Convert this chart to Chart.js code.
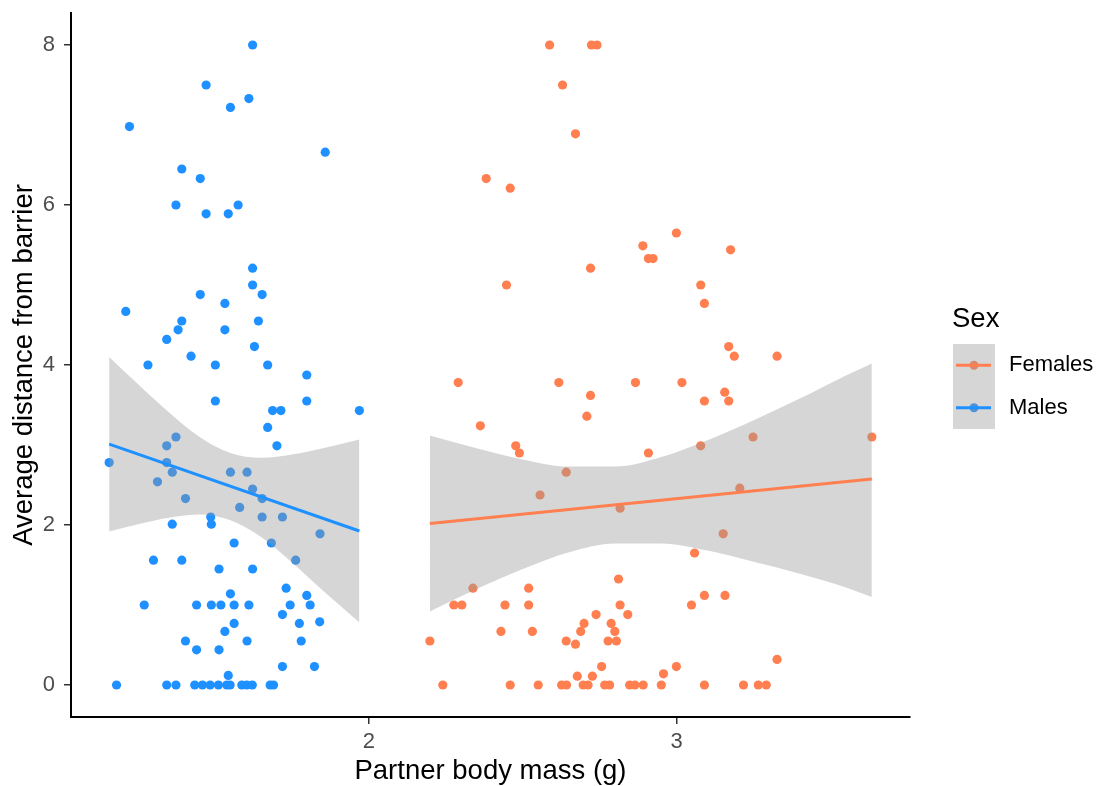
<!DOCTYPE html>
<html lang="en">
<head>
  <meta charset="UTF-8" />
  <title>Distance_Mass</title>
  <script src="https://cdn.jsdelivr.net/npm/chart.js"></script>
  <style>
    body {
      margin: 0;
      background: #fff;
      overflow: hidden;
    }

    #wrap {
      width: 1101px;
      height: 786px;
    }
  </style>
</head>
<body>

<div id="wrap"><canvas id="chart" width="1101" height="786"></canvas></div>

<script>
const FONT = "'Liberation Sans', Arial, sans-serif";
const femaleColor = "#FF7F50";
const maleColor = "#1E90FF";
const ribbonColor = "rgba(153,153,153,0.4)";

const xTicks = [2, 3];
const yTicks = [0, 2, 4, 6, 8];
const legendLabels = ["Females", "Males"];

// males: partner body mass (g) / average distance from barrier
const maleMass = [
  1.622, 1.471, 1.610, 1.550, 1.222, 1.858, 1.392, 1.452, 1.373, 1.575, 1.471, 1.543,
  1.622, 1.622, 1.452, 1.653, 1.532, 1.210, 1.392, 1.641, 1.380, 1.532, 1.343, 1.628,
  1.422, 1.282, 1.501, 1.671, 1.798, 1.501, 1.798, 1.687, 1.714, 1.969, 1.671, 1.373,
  1.343, 1.701, 1.156, 1.343, 1.361, 1.550, 1.604,
  1.313, 1.622, 1.404, 1.653, 1.580, 1.486, 1.653, 1.719, 1.361, 1.488, 1.841, 1.562,
  1.683, 1.300, 1.392, 1.762, 1.513, 1.622, 1.731, 1.550, 1.798, 1.270, 1.440, 1.488,
  1.519, 1.562, 1.610, 1.744, 1.809, 1.719, 1.840, 1.562, 1.774, 1.532, 1.404, 1.604,
  1.780, 1.440, 1.513, 1.719, 1.823, 1.543,
  1.180, 1.343, 1.373, 1.434, 1.459, 1.484, 1.511, 1.538, 1.549, 1.587, 1.603, 1.621,
  1.679, 1.690
];
const maleDist = [
  8.00, 7.50, 7.33, 7.22, 6.98, 6.66, 6.45, 6.33, 6.00, 6.00, 5.89, 5.89,
  5.21, 5.00, 4.88, 4.88, 4.77, 4.67, 4.55, 4.55, 4.44, 4.44, 4.32, 4.23,
  4.11, 4.00, 4.00, 4.00, 3.875, 3.55, 3.55, 3.43, 3.43, 3.43, 3.22, 3.10,
  2.99, 2.99, 2.78, 2.78, 2.66, 2.66, 2.66,
  2.54, 2.45, 2.33, 2.33, 2.22, 2.10, 2.10, 2.10, 2.01, 2.01, 1.89, 1.775,
  1.775, 1.56, 1.56, 1.56, 1.45, 1.45, 1.21, 1.14, 1.12, 1.00, 1.00, 1.00,
  1.00, 1.00, 1.00, 1.00, 1.00, 0.88, 0.79, 0.77, 0.77, 0.67, 0.55, 0.55,
  0.55, 0.44, 0.44, 0.23, 0.23, 0.12,
  0, 0, 0, 0, 0, 0, 0, 0, 0, 0, 0, 0,
  0, 0
];

// females
const femaleMass = [
  2.587, 2.723, 2.741, 2.629, 2.671, 2.381, 2.459, 2.999, 2.890, 2.908, 2.923, 3.175,
  2.720, 2.447, 3.078, 3.090, 3.169, 3.187, 3.326, 2.290, 2.617, 2.866, 3.017, 3.156,
  2.720, 3.090, 3.169, 2.708, 2.362, 3.248, 3.634, 2.477, 3.078, 2.489, 2.908, 2.641,
  2.556, 3.205, 2.816, 3.151, 3.058, 2.811, 2.338, 2.519, 3.090, 3.157, 2.276, 2.302,
  2.442, 2.519, 2.816, 3.048, 2.738, 2.841, 2.699, 2.787, 2.688, 2.799, 2.429, 2.531,
  2.198, 2.641, 2.671, 2.777, 2.804, 3.326, 2.756, 2.999, 2.677, 2.726, 2.957,
  2.240, 2.459, 2.550, 2.626, 2.642, 2.696, 2.712, 2.766, 2.782, 2.847, 2.864, 2.891,
  2.950, 3.090, 3.217, 3.265, 3.291
];
const femaleDist = [
  8.00, 8.00, 8.00, 7.50, 6.89, 6.33, 6.21, 5.65, 5.49, 5.33, 5.33, 5.44,
  5.21, 5.00, 5.00, 4.77, 4.23, 4.11, 4.11, 3.78, 3.78, 3.78, 3.78, 3.66,
  3.62, 3.55, 3.55, 3.36, 3.24, 3.10, 3.10, 2.99, 2.99, 2.90, 2.90, 2.66,
  2.375, 2.46, 2.21, 1.89, 1.65, 1.325, 1.21, 1.21, 1.12, 1.12, 1.00, 1.00,
  1.00, 1.00, 1.00, 1.00, 0.88, 0.88, 0.77, 0.77, 0.67, 0.67, 0.67, 0.67,
  0.55, 0.55, 0.51, 0.55, 0.55, 0.32, 0.23, 0.23, 0.11, 0.11, 0.14,
  0, 0, 0, 0, 0, 0, 0, 0, 0, 0, 0, 0,
  0, 0, 0, 0, 0
];

// linear fits and their confidence bands
const maleFitX = [1.156, 1.969];
const maleFitY = [3.01, 1.925];
const femaleFitX = [2.198, 3.634];
const femaleFitY = [2.02, 2.575];

const maleBandX = [1.156, 1.25, 1.35, 1.45, 1.55, 1.65, 1.75, 1.85, 1.969];
const maleBandHi = [4.10, 3.76, 3.41, 3.10, 2.90, 2.84, 2.88, 2.96, 3.07];
const maleBandLo = [1.92, 2.01, 2.09, 2.13, 2.06, 1.85, 1.53, 1.18, 0.78];

const femaleBandX = [2.198, 2.35, 2.5, 2.65, 2.8, 2.95, 3.1, 3.25, 3.4, 3.55, 3.634];
const femaleBandHi = [3.12, 2.96, 2.82, 2.73, 2.73, 2.85, 3.06, 3.31, 3.58, 3.87, 4.02];
const femaleBandLo = [0.92, 1.20, 1.45, 1.66, 1.77, 1.77, 1.68, 1.54, 1.39, 1.22, 1.10];

const pts = (xs, ys) => xs.map((x, i) => ({ x, y: ys[i] }));

function lineSet(xs, ys, color, order) {
  return {
    data: pts(xs, ys), showLine: true, order,
    borderColor: color, borderWidth: 3, pointRadius: 0, fill: false
  };
}

function bandSet(xs, ys, order, fill) {
  return {
    data: pts(xs, ys), showLine: true, order, fill,
    borderColor: "transparent", borderWidth: 0, pointRadius: 0,
    backgroundColor: ribbonColor, cubicInterpolationMode: "monotone"
  };
}

function pointSet(xs, ys, color, order) {
  return {
    data: pts(xs, ys), order,
    backgroundColor: color, pointRadius: 4.6, pointBorderWidth: 0, borderWidth: 0
  };
}

// scale boxes get fixed sizes so the plot area matches the original
function fixBox(size) {
  return s => {
    if (s.isHorizontal()) s.height = size;
    else s.width = size;
    s.paddingTop = 0;
    s.paddingBottom = 0;
    s.paddingLeft = 0;
    s.paddingRight = 0;
  };
}

const legendPlugin = {
  id: "sexLegend",
  afterDraw(chart) {
    const ctx = chart.ctx;
    const colors = [femaleColor, maleColor];
    ctx.save();
    ctx.fillStyle = "#000";
    ctx.font = `27.5px ${FONT}`;
    ctx.textAlign = "left";
    ctx.textBaseline = "alphabetic";
    ctx.fillText("Sex", 952, 327);

    const boxX = 953, boxY = 344, boxW = 42, keyH = 42.5;
    colors.forEach((c, i) => {
      const cy = boxY + keyH * i + keyH / 2;
      ctx.fillStyle = c;
      ctx.beginPath();
      ctx.arc(boxX + boxW / 2, cy, 4.5, 0, Math.PI * 2);
      ctx.fill();
    });
    ctx.fillStyle = ribbonColor;
    ctx.fillRect(boxX, boxY, boxW, keyH * 2);
    colors.forEach((c, i) => {
      const cy = boxY + keyH * i + keyH / 2;
      ctx.strokeStyle = c;
      ctx.lineWidth = 3;
      ctx.beginPath();
      ctx.moveTo(boxX + 3, cy);
      ctx.lineTo(boxX + boxW - 4, cy);
      ctx.stroke();
      ctx.fillStyle = "#000";
      ctx.font = `22px ${FONT}`;
      ctx.textBaseline = "middle";
      ctx.fillText(legendLabels[i], 1009, cy);
    });
    ctx.restore();
  }
};

new Chart(document.getElementById("chart"), {
  type: "scatter",
  data: {
    datasets: [
      lineSet(maleFitX, maleFitY, maleColor, 0),
      lineSet(femaleFitX, femaleFitY, femaleColor, 1),
      bandSet(maleBandX, maleBandHi, 2, "+1"),
      bandSet(maleBandX, maleBandLo, 3, false),
      bandSet(femaleBandX, femaleBandHi, 4, "+1"),
      bandSet(femaleBandX, femaleBandLo, 5, false),
      pointSet(maleMass, maleDist, maleColor, 6),
      pointSet(femaleMass, femaleDist, femaleColor, 7)
    ]
  },
  options: {
    responsive: false,
    animation: false,
    events: [],
    devicePixelRatio: 1,
    layout: { padding: { top: 13, right: 191, left: 0, bottom: 0 } },
    plugins: {
      legend: { display: false },
      tooltip: { enabled: false }
    },
    scales: {
      x: {
        type: "linear",
        min: 1.032,
        max: 3.758,
        afterFit: fixBox(69),
        afterBuildTicks: s => { s.ticks = xTicks.map(v => ({ value: v })); },
        border: { display: true, color: "#000", width: 2 },
        grid: { drawOnChartArea: false, drawTicks: true, tickLength: 7, color: "#333", lineWidth: 1.5 },
        ticks: { color: "#4d4d4d", padding: 5, font: { family: FONT, size: 22 }, maxRotation: 0 },
        title: {
          display: true,
          text: "Partner body mass (g)",
          color: "#000",
          font: { family: FONT, size: 27.5, lineHeight: 1 },
          padding: { top: 0, bottom: 1 }
        }
      },
      y: {
        type: "linear",
        min: -0.4,
        max: 8.4,
        afterFit: fixBox(71),
        afterBuildTicks: s => { s.ticks = yTicks.map(v => ({ value: v })); },
        border: { display: true, color: "#000", width: 2 },
        grid: { drawOnChartArea: false, drawTicks: true, tickLength: 7, color: "#333", lineWidth: 1.5 },
        ticks: { color: "#4d4d4d", padding: 9, font: { family: FONT, size: 22 } },
        title: {
          display: true,
          text: "Average distance from barrier",
          color: "#000",
          font: { family: FONT, size: 27.5, lineHeight: 1 },
          padding: { top: 11, bottom: 0 }
        }
      }
    }
  },
  plugins: [legendPlugin]
});
</script>

</body>
</html>
